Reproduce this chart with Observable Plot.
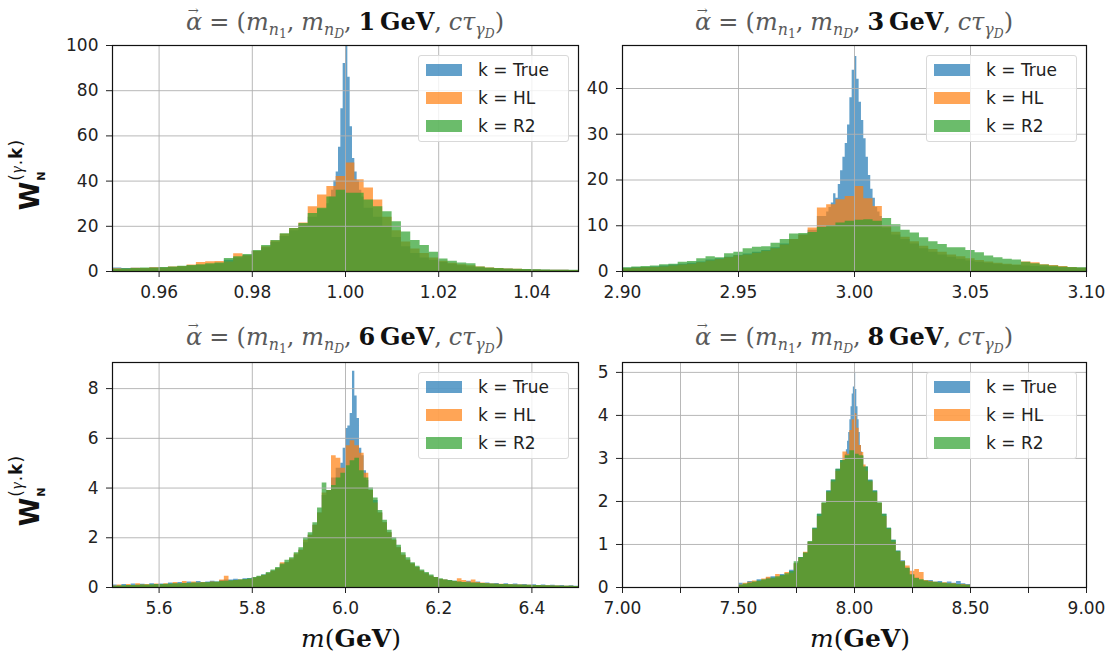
<!DOCTYPE html>
<html><head><meta charset="utf-8">
<script src="https://cdn.jsdelivr.net/npm/d3@7"></script>
<script src="https://cdn.jsdelivr.net/npm/@observablehq/plot@0.6"></script>
<style>
body{margin:0;background:#fff;}
#fig{position:relative;width:1120px;height:661px;overflow:hidden;background:#fff;font-family:"DejaVu Sans",sans-serif;}
.panel{position:absolute;}
.title{position:absolute;transform:translate(-50%,-50%);white-space:nowrap;font-family:"DejaVu Serif",serif;font-size:24px;color:#5a5a5a;line-height:1;}
.title i{font-style:italic;}
.title b{color:#111;font-weight:bold;}
.title .sp{display:inline-block;width:0.28em;}
.title .eq{display:inline-block;margin:0 0.3em;}
.title sub{font-size:0.66em;vertical-align:-0.32em;line-height:0;}
.title sub sub{font-size:0.78em;vertical-align:-0.25em;}
.vec{position:relative;display:inline-block;font-style:italic;}
.vec::after{content:"\2192";position:absolute;left:0.14em;top:-0.42em;font-size:0.55em;font-style:normal;}
.ylab{position:absolute;transform:translate(-50%,-50%) rotate(-90deg);white-space:nowrap;color:#111;line-height:1;}
.ylab .W{font-size:26px;font-weight:bold;font-family:"DejaVu Sans",sans-serif;}
.ylab .st{display:inline-block;position:relative;width:58px;height:26px;vertical-align:bottom;}
.ylab .sp{position:absolute;left:1px;top:-9px;font-size:17px;letter-spacing:1px;}
.ylab .sp i{font-family:"Liberation Serif",serif;}
.ylab .sb{position:absolute;left:1px;bottom:-4px;font-size:11px;font-weight:bold;}
.xlab{position:absolute;transform:translate(-50%,-50%);white-space:nowrap;font-family:"DejaVu Serif",serif;font-size:25px;color:#111;line-height:1;}
.leg{position:absolute;width:151px;height:87px;box-sizing:border-box;border:1px solid #d9d9d9;border-radius:3px;background:rgba(255,255,255,0.8);}
.leg .row{position:absolute;left:0;height:20px;line-height:20px;font-size:17px;color:#222;white-space:nowrap;}
.leg .sw{position:absolute;left:7px;top:4px;width:36px;height:12px;}
.leg .tx{position:absolute;left:59px;top:0;}
</style></head><body><div id="fig"></div>
<script>
// ---------- colours ----------
const colBlue = "#1f77b4", colOrange = "#ff7f0e", colGreen = "#2ca02c";
const seriesNames = ["k = True", "k = HL", "k = R2"];
const titleMass = ["1", "3", "6", "8"];

// ---------- panel 1 (1 GeV) ----------
const p1XDomain = [0.95, 1.05], p1YDomain = [0, 100];
const p1XTicks = [0.96, 0.98, 1.00, 1.02, 1.04];
const p1YTicks = [0, 20, 40, 60, 80, 100];
const p1Green = [1.0,1.2,1.3,1.5,1.6,1.8,2.0,2.3,2.6,3.0,
 3.4,3.8,5.8,6.5,7.5,9.3,11.5,13.7,16.7,19.0,
 21.2,25.7,28.0,33.0,36.0,34.6,34.6,31.6,28.7,26.4,
 22.0,17.5,13.7,11.5,8.5,5.5,4.5,3.8,3.4,2.0,
 1.5,1.3,1.1,1.0,0.9,0.8,0.7,0.6,0.6,0.5];
const p1Orange = [1.2,1.0,1.4,1.3,1.7,1.5,2.0,2.2,2.9,4.0,
 4.3,4.4,4.2,7.8,7.0,9.0,11.0,13.5,16.5,19.0,
 21.5,28.7,33.9,37.6,42.0,48.0,40.6,36.9,31.6,24.0,
 18.0,13.0,10.0,8.0,6.0,4.5,3.6,3.0,2.5,2.0,
 1.6,1.3,1.1,1.0,0.8,0.7,0.6,0.5,0.5,0.4];
const p1BlueLeft = [1.5,1.3,1.4,1.2,1.5,1.6,1.8,2.0,2.3,2.7,
 3.0,3.4,5.0,6.0,7.0,8.8,10.5,12.8,15.5,18.0,
 20.5,24.0,27.5];
const p1BlueMid = [30,33,36,40,44,55,72,92,104,86,64,50,44,40,36,33];
const p1BlueRight = [28,24,20,15,11,8,6,5,4,3.2,
 2.5,2.0,1.6,1.3,1.1,1.0,0.9,0.8,0.7,0.6,
 0.5,0.5,0.4];

// ---------- panel 2 (3 GeV) ----------
const p2XDomain = [2.90, 3.10], p2YDomain = [0, 49.4];
const p2XTicks = [2.90, 2.95, 3.00, 3.05, 3.10];
const p2YTicks = [0, 10, 20, 30, 40];
const p2Green = [0.8,1.0,1.1,1.2,1.5,1.6,2.0,2.2,2.8,3.2,
 3.0,3.9,4.2,5.0,5.3,5.4,6.2,7.0,8.2,8.3,
 8.5,9.6,10.0,10.6,11.0,11.2,11.3,11.0,11.6,10.2,
 9.0,8.4,7.4,6.5,5.9,5.2,5.2,4.6,4.1,3.4,
 3.0,2.7,2.5,2.0,1.7,1.4,1.2,1.0,0.9,0.8];
const p2Orange = [0.6,0.7,0.8,0.9,1.0,1.2,1.4,1.6,1.9,2.3,
 2.6,3.0,3.4,3.6,4.0,4.4,5.0,5.8,7.0,8.0,
 9.5,13.9,14.6,15.7,16.4,18.6,15.9,14.2,10.0,8.6,
 7.5,6.5,5.5,4.8,4.2,3.6,3.2,2.8,2.4,2.1,
 1.8,1.6,1.4,2.1,1.9,1.5,1.3,1.1,0.9,0.7];
const p2BlueLeft = [0.7,0.8,0.9,1.0,1.2,1.4,1.6,1.8,2.1,2.5,
 2.8,3.1,3.5,3.8,4.2,4.6,5.2,6.0,7.0,8.0,
 9.0,12.0];
const p2BlueMid = [13,14,15,17,16,19,22,25,28,32,38,44,
 47,42,37,33,29,25,21,18,16,14,13,12];
const p2BlueRight = [9.5,8.0,7.0,6.0,5.0,4.2,3.6,3.1,2.7,2.3,
 2.0,1.8,1.6,1.4,1.3,1.2,1.1,1.0,0.9,0.8,
 0.7,0.7];

// ---------- panel 3 (6 GeV) ----------
const p3XDomain = [5.5, 6.5], p3YDomain = [0, 9.05];
const p3XTicks = [5.6, 5.8, 6.0, 6.2, 6.4];
const p3YTicks = [0, 2, 4, 6, 8];
const p3Green = [0.05,0.06,0.07,0.08,0.08,0.09,0.10,0.10,0.11,0.12,
 0.12,0.13,0.14,0.15,0.15,0.16,0.17,0.18,0.18,0.19,
 0.20,0.21,0.22,0.24,0.25,0.27,0.28,0.30,0.32,0.35,
 0.40,0.45,0.50,0.60,0.70,0.80,0.95,1.10,1.20,1.40,
 1.60,2.00,2.20,2.60,3.20,4.20,3.90,4.10,4.40,4.60,
 4.90,5.10,5.20,4.70,4.40,4.00,3.60,3.10,2.70,2.30,
 2.00,1.70,1.40,1.20,1.00,0.85,0.70,0.60,0.50,0.40,
 0.35,0.30,0.28,0.25,0.22,0.20,0.19,0.18,0.17,0.16,
 0.15,0.14,0.13,0.12,0.12,0.11,0.10,0.10,0.09,0.09,
 0.08,0.08,0.07,0.07,0.06,0.06,0.05,0.05,0.05,0.04];
const p3Orange = [0.06,0.10,0.05,0.12,0.08,0.15,0.10,0.12,0.09,0.14,
 0.10,0.15,0.12,0.20,0.14,0.24,0.16,0.22,0.18,0.20,
 0.18,0.22,0.20,0.30,0.45,0.25,0.28,0.30,0.30,0.32,
 0.38,0.42,0.48,0.55,0.65,0.75,1.00,1.00,1.15,1.35,
 1.50,1.90,2.10,2.50,3.00,3.80,3.90,5.30,5.20,4.80,
 5.70,5.90,5.70,5.40,4.60,3.90,3.40,3.00,2.60,2.20,
 1.90,1.60,1.30,1.10,0.95,0.80,0.65,0.55,0.45,0.40,
 0.32,0.30,0.26,0.24,0.35,0.28,0.22,0.30,0.20,0.18,
 0.16,0.14,0.13,0.13,0.12,0.11,0.10,0.10,0.09,0.09,
 0.08,0.08,0.07,0.07,0.06,0.06,0.05,0.05,0.05,0.04];
const p3BlueLeft = [0.10,0.06,0.12,0.08,0.14,0.10,0.13,0.09,0.15,0.12,
 0.14,0.12,0.18,0.15,0.20,0.17,0.22,0.18,0.24,0.20,
 0.22,0.25,0.22,0.28,0.30,0.30,0.33,0.30,0.35,0.36,
 0.38,0.42,0.50,0.55,0.65,0.75,0.90,1.00,1.10,1.30,
 1.50,1.80,2.10,2.50,3.00,3.70,3.90,4.40,4.80];
const p3BlueMid = [5.0,5.6,6.4,6.5,7.0,8.7,7.7,6.8,5.6,5.3,4.7,4.3];
const p3BlueRight = [3.9,3.5,3.0,2.6,2.2,1.9,1.6,1.3,1.1,0.95,
 0.80,0.65,0.55,0.45,0.40,0.32,0.30,0.28,0.25,0.22,
 0.20,0.25,0.18,0.22,0.16,0.18,0.14,0.16,0.12,0.15,
 0.11,0.14,0.10,0.12,0.09,0.11,0.08,0.10,0.07,0.09,
 0.06,0.08,0.05,0.07,0.05];

// ---------- panel 4 (8 GeV) ----------
const p4XDomain = [7.0, 9.0], p4YDomain = [0, 5.23];
const p4XTicks = [7.00, 7.25, 7.50, 7.75, 8.00, 8.25, 8.50, 8.75, 9.00];
const p4YTicks = [0, 1, 2, 3, 4, 5];
const p4Green = [0.05,0.08,0.10,0.13,0.15,0.18,0.20,0.22,0.25,0.28,
 0.32,0.37,0.60,0.70,0.80,1.07,1.38,1.70,1.97,2.24,
 2.50,2.75,2.95,3.06,3.18,3.10,3.06,2.80,2.48,2.24,
 1.97,1.70,1.38,1.10,0.84,0.60,0.45,0.29,0.21,0.18,
 0.15,0.13,0.12,0.11,0.10,0.09,0.08,0.07,0.06,0.05];
const p4OrangeLeft = [0.06,0.10,0.12,0.15,0.14,0.20,0.24,0.20,0.30,0.26,
 0.35,0.33,0.55,0.68,0.82,1.05,1.35,1.65,1.95,2.20,
 2.45,2.70];
const p4OrangeMid = [2.90,3.15,3.15,3.10,3.65,3.90,4.04,3.70,3.30,3.14,2.85,2.70];
const p4OrangeRight = [2.45,2.20,1.95,1.65,1.35,1.05,0.82,0.60,0.50,0.38,
 0.42,0.35,0.16,0.14,0.12,0.10,0.11,0.08,0.09,0.06,
 0.07,0.05];
const p4BlueLeft = [0.10,0.06,0.14,0.12,0.18,0.16,0.22,0.25,0.22,0.30,
 0.28,0.40,0.55,0.70,0.80,1.05,1.38,1.70,1.95,2.25,
 2.50,2.75,2.95];
const p4BlueMid = [3.10,3.20,3.40,3.60,3.90,4.20,4.50,4.66,5.00,4.60,4.20,3.90,3.60,3.30,3.15,3.05];
const p4BlueRight = [2.80,2.50,2.25,1.95,1.70,1.38,1.10,0.85,0.62,0.45,
 0.30,0.22,0.17,0.15,0.16,0.12,0.14,0.10,0.13,0.10,
 0.14,0.09,0.07];

// ---------- helpers ----------
// segments: [start, binWidth, values]
function steps(segments) {
  const pts = []; let end = 0, last = 0;
  for (const [s, w, vals] of segments) {
    vals.forEach((v, i) => pts.push({x: s + i * w, v}));
    end = s + vals.length * w; last = vals[vals.length - 1];
  }
  pts.push({x: end, v: last});
  return pts;
}

const intFmt = d3.format("d");
const panels = [
  {left: 0, top: 0, w: 600, h: 320, ml: 112, mr: 22, mt: 45, mb: 49,
   xd: p1XDomain, yd: p1YDomain, xt: p1XTicks, yt: p1YTicks, xf: d3.format(".2f"),
   blue: steps([[0.95, 0.002, p1BlueLeft], [0.996, 0.0005, p1BlueMid], [1.004, 0.002, p1BlueRight]]),
   orange: steps([[0.95, 0.002, p1Orange]]),
   green: steps([[0.95, 0.002, p1Green]])},
  {left: 560, top: 0, w: 560, h: 320, ml: 62, mr: 34, mt: 45, mb: 49,
   xd: p2XDomain, yd: p2YDomain, xt: p2XTicks, yt: p2YTicks, xf: d3.format(".2f"),
   blue: steps([[2.90, 0.004, p2BlueLeft], [2.988, 0.001, p2BlueMid], [3.012, 0.004, p2BlueRight]]),
   orange: steps([[2.90, 0.004, p2Orange]]),
   green: steps([[2.90, 0.004, p2Green]])},
  {left: 0, top: 320, w: 600, h: 341, ml: 112, mr: 22, mt: 42, mb: 74,
   xd: p3XDomain, yd: p3YDomain, xt: p3XTicks, yt: p3YTicks, xf: d3.format(".1f"),
   blue: steps([[5.50, 0.01, p3BlueLeft], [5.99, 0.005, p3BlueMid], [6.05, 0.01, p3BlueRight]]),
   orange: steps([[5.50, 0.01, p3Orange]]),
   green: steps([[5.50, 0.01, p3Green]])},
  {left: 560, top: 320, w: 560, h: 341, ml: 62, mr: 34, mt: 42, mb: 74,
   xd: p4XDomain, yd: p4YDomain, xt: p4XTicks, yt: p4YTicks,
   xf: d => (Math.abs(d * 2 - Math.round(d * 2)) < 1e-9 ? d.toFixed(2) : ""),
   blue: steps([[7.50, 0.02, p4BlueLeft], [7.96, 0.005, p4BlueMid], [8.04, 0.02, p4BlueRight]]),
   orange: steps([[7.50, 0.02, p4OrangeLeft], [7.94, 0.01, p4OrangeMid], [8.06, 0.02, p4OrangeRight]]),
   green: steps([[7.50, 0.02, p4Green]])}
];

const fig = document.getElementById("fig");
const op = 0.7;

panels.forEach((p, idx) => {
  const chart = Plot.plot({
    width: p.w, height: p.h,
    marginLeft: p.ml, marginRight: p.mr, marginTop: p.mt, marginBottom: p.mb,
    x: {domain: p.xd, ticks: p.xt, tickFormat: p.xf, tickSize: 6, tickPadding: 8, label: null},
    y: {domain: p.yd, ticks: p.yt, tickFormat: intFmt, tickSize: 6, tickPadding: 8, label: null},
    style: {fontSize: "17px", fontFamily: "DejaVu Sans, sans-serif", color: "#222", background: "none", overflow: "visible"},
    marks: [
      Plot.areaY(p.blue, {x: "x", y: "v", curve: "step-after", fill: colBlue, fillOpacity: op, clip: true}),
      Plot.areaY(p.orange, {x: "x", y: "v", curve: "step-after", fill: colOrange, fillOpacity: op, clip: true}),
      Plot.areaY(p.green, {x: "x", y: "v", curve: "step-after", fill: colGreen, fillOpacity: op, clip: true}),
      Plot.ruleX(p.xt, {stroke: "#b0b0b0", strokeWidth: 0.9}),
      Plot.ruleY(p.yt, {stroke: "#b0b0b0", strokeWidth: 0.9}),
      Plot.frame({stroke: "#111", strokeWidth: 1.2})
    ]
  });
  chart.classList.add("panel");
  chart.style.left = p.left + "px";
  chart.style.top = p.top + "px";
  fig.appendChild(chart);

  const x0 = p.left + p.ml, x1 = p.left + p.w - p.mr;
  const cx = (x0 + x1) / 2;
  const y0 = p.top + p.mt;

  // title
  const t = document.createElement("div");
  t.className = "title";
  t.style.left = cx + "px";
  t.style.top = (idx < 2 ? 22 : 337) + "px";
  t.innerHTML = '<span class="vec">\u03b1</span><span class="eq">=</span>(<i>m</i><sub><i>n</i><sub>1</sub></sub>,<span class="sp"></span><i>m</i><sub><i>n</i><sub><i>D</i></sub></sub>,<span class="sp"></span><b>' + titleMass[idx] + '\u2009GeV</b>,<span class="sp"></span><i>c\u03c4</i><sub><i>\u03b3</i><sub><i>D</i></sub></sub>)';
  fig.appendChild(t);

  // legend
  const lg = document.createElement("div");
  lg.className = "leg";
  lg.style.left = (x1 - 160) + "px";
  lg.style.top = (y0 + 10) + "px";
  const cols = [colBlue, colOrange, colGreen];
  seriesNames.forEach((name, i) => {
    const r = document.createElement("div");
    r.className = "row";
    r.style.top = (4 + 28 * i) + "px";
    r.innerHTML = '<span class="sw" style="background:' + cols[i] + ';opacity:' + op + '"></span><span class="tx">' + name + '</span>';
    lg.appendChild(r);
  });
  fig.appendChild(lg);

  // y label (left column)
  if (idx % 2 === 0) {
    const yl = document.createElement("div");
    yl.className = "ylab";
    yl.style.left = "30px";
    yl.style.top = (idx === 0 ? 167 : 483) + "px";
    yl.innerHTML = '<span class="W">W</span><span class="st"><span class="sp">(<i>\u03b3</i>.<b>k</b>)</span><span class="sb">N</span></span>';
    fig.appendChild(yl);
  }
  // x label (bottom row)
  if (idx >= 2) {
    const xl = document.createElement("div");
    xl.className = "xlab";
    xl.style.left = (cx + 6) + "px";
    xl.style.top = "638px";
    xl.innerHTML = '<i>m</i>(<b>GeV</b>)';
    fig.appendChild(xl);
  }
});
</script></body></html>
